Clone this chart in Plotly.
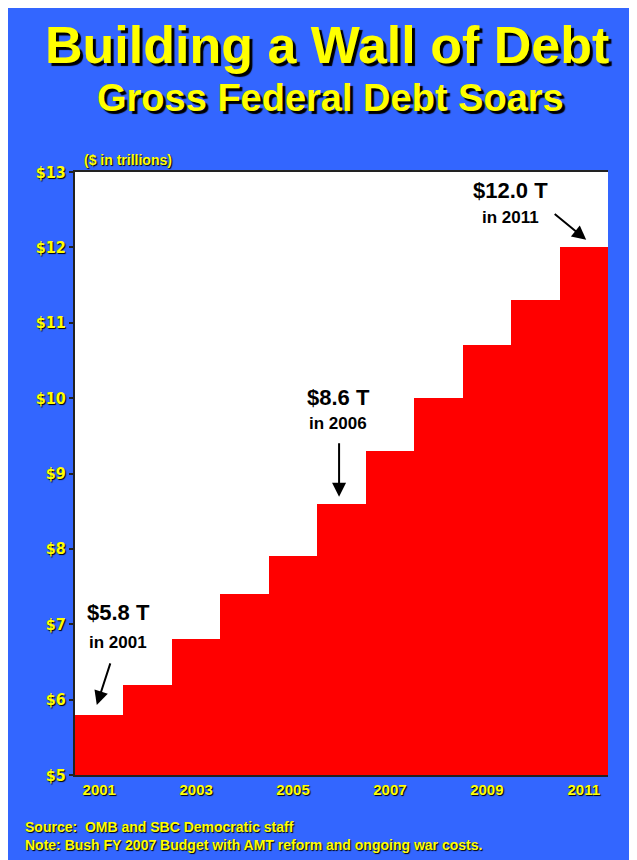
import plotly.graph_objects as go

years = [2001, 2002, 2003, 2004, 2005, 2006, 2007, 2008, 2009, 2010, 2011]
debt = [5.8, 6.2, 6.8, 7.4, 7.9, 8.6, 9.3, 10.0, 10.7, 11.3, 12.0]

y_tickvals = [5, 6, 7, 8, 9, 10, 11, 12, 13]
y_ticktext = ["$5", "$6", "$7", "$8", "$9", "$10", "$11", "$12", "$13"]
x_tickvals = [2001, 2003, 2005, 2007, 2009, 2011]
x_ticktext = ["2001", "2003", "2005", "2007", "2009", "2011"]

callout_years = [2001, 2006, 2011]
callout_values = [5.8, 8.6, 12.0]

title = "Building a Wall of Debt"
subtitle = "Gross Federal Debt Soars"
units = "($ in trillions)"
source = "Source:  OMB and SBC Democratic staff"
note = "Note: Bush FY 2007 Budget with AMT reform and ongoing war costs."

BLUE = "#3366FF"
YELLOW = "#FFFF00"
BOLD = "Liberation Sans, Arial, sans-serif"
NARROW = "DejaVu Sans Condensed, Liberation Sans Narrow, Arial Narrow, sans-serif"

fig = go.Figure()
fig.add_trace(go.Bar(
    x=years, y=debt, width=1.0,
    marker=dict(color="#FF0000", line=dict(width=0)),
    hoverinfo="x+y", showlegend=False,
))

OFF = 8  # page body margin
W, H = 637 - OFF, 860 - OFF
L, R, T, B = 75 - OFF, 29, 172 - OFF, 85
pw, ph = W - L - R, H - T - B

def px(xp):
    return (xp - OFF - L) / pw

def py(yp):
    return (H - B - (yp - OFF)) / ph

annotations = []

def txt(text, x, y, size, color=YELLOW, shadow="2px 2px 1px #000", xref="paper", yref="paper",
        xanchor="center", yanchor="middle", family=BOLD):
    annotations.append(dict(
        text=text, x=x, y=y, xref=xref, yref=yref, xanchor=xanchor, yanchor=yanchor,
        showarrow=False,
        font=dict(family=family, size=size, color=color, weight="bold", shadow=shadow),
    ))

txt(title, px(327), py(45), 52, shadow="3px 3px 1px #000")
txt(subtitle, px(330), py(98), 38, shadow="3px 3px 1px #000")
txt(units, px(82), py(160), 14, xanchor="left", shadow="1px 1px 1px #000")
txt(source, px(23), py(827), 14, xanchor="left", shadow="1px 1px 1px #000")
txt(note, px(23), py(845), 14, xanchor="left", shadow="1px 1px 1px #000")

# callout labels
labels = [("$5.8 T", "in 2001"), ("$8.6 T", "in 2006"), ("$12.0 T", "in 2011")]
label_x = [2001.39, 2005.93, 2009.48]
label_top_y = [7.15, 10.01, 12.76]
label_bot_y = [6.76, 9.67, 12.39]
for (a, b), lx, ty, by in zip(labels, label_x, label_top_y, label_bot_y):
    txt(a, lx, ty, 22, color="#000000", shadow="none", xref="x", yref="y")
    txt(b, lx, by, 17, color="#000000", shadow="none", xref="x", yref="y")

# arrows: head position relative to data point, tail offset in pixels
head_dx = [-0.05, -0.05, 0.05]
head_dy = [0.13, 0.09, 0.10]
tails = [(14, -43), (0, -55), (-33, -27)]
for yr, v, dx, dy, (ax, ay) in zip(callout_years, callout_values, head_dx, head_dy, tails):
    annotations.append(dict(
        x=yr + dx, y=v + dy, xref="x", yref="y", text="", showarrow=True,
        ax=ax, ay=ay, arrowhead=2, arrowsize=1.4, arrowwidth=2, arrowcolor="#000000",
    ))

fig.update_layout(
    width=W, height=H,
    margin=dict(l=L, r=R, t=T, b=B),
    paper_bgcolor=BLUE,
    plot_bgcolor="#FFFFFF",
    bargap=0,
    annotations=annotations,
    xaxis=dict(
        range=[2000.5, 2011.5], tickvals=x_tickvals, ticktext=x_ticktext,
        showgrid=False, zeroline=False, ticks="",
        showline=True, linecolor="#222222", linewidth=2, mirror=True,
        tickfont=dict(family=BOLD, size=15, color=YELLOW, weight="bold", shadow="1px 1px 1px #000"),
        fixedrange=True,
    ),
    yaxis=dict(
        range=[5, 13], tickvals=y_tickvals, ticktext=y_ticktext,
        showgrid=False, zeroline=False, ticks="outside", ticklen=4, tickwidth=2,
        tickcolor="#222222",
        showline=True, linecolor="#222222", linewidth=2,
        tickfont=dict(family=NARROW, size=16, color=YELLOW, weight="bold", shadow="1px 1px 1px #000"),
        fixedrange=True,
    ),
)

fig.write_html("out.html")
